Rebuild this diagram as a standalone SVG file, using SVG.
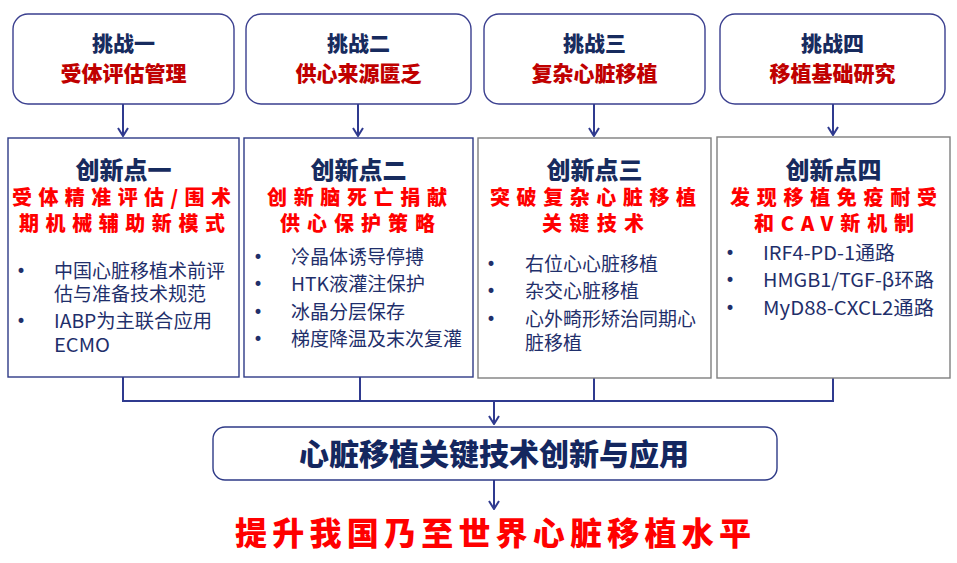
<svg xmlns="http://www.w3.org/2000/svg" width="957" height="563" viewBox="0 0 957 563">
<defs>
<style>
.cbox{fill:#fff;stroke:#3a3f8f;stroke-width:1.4}
.ibox{fill:#fff;stroke:#2e3a87;stroke-width:1.4}
.gbox{fill:#fff;stroke:#7f7f7f;stroke-width:1.4}
.conn{fill:none;stroke:#2f3a8f;stroke-width:2}
.ct{font-family:"Noto Sans CJK SC","Noto Sans",sans-serif;font-weight:900;font-size:21px;fill:#172b5e;text-anchor:middle}
.cs{font-family:"Noto Sans CJK SC","Noto Sans",sans-serif;font-weight:900;font-size:21px;fill:#c00000;text-anchor:middle}
.it{font-family:"Noto Sans CJK SC","Noto Sans",sans-serif;font-weight:900;font-size:24px;fill:#172b5e;text-anchor:middle}
.ir{font-family:"Noto Sans CJK SC","Noto Sans",sans-serif;font-weight:900;font-size:20px;fill:#ff0000}
.b{font-family:"Noto Sans CJK SC","Noto Sans",sans-serif;font-size:19px;fill:#1f2f6b}
.dot{font-family:"DejaVu Sans",sans-serif;font-size:17px;fill:#1f2f6b}
.mid{font-family:"Noto Sans CJK SC","Noto Sans",sans-serif;font-weight:900;font-size:30px;fill:#14275f;text-anchor:middle}
.fin{font-family:"Noto Sans CJK SC","Noto Sans",sans-serif;font-weight:900;font-size:32px;fill:#ff0000}
</style>
<marker id="ah" viewBox="0 0 10 12" markerWidth="10" markerHeight="12" refX="9" refY="6" orient="auto" markerUnits="userSpaceOnUse">
<path d="M1,1 L9,6 L1,11" fill="none" stroke="#2f3a8f" stroke-width="2"/>
</marker>
</defs>

<g id="connectors">
<line class="conn" x1="123" y1="104" x2="123" y2="136" marker-end="url(#ah)"/>
<line class="conn" x1="358" y1="104" x2="358" y2="136" marker-end="url(#ah)"/>
<line class="conn" x1="594" y1="104" x2="594" y2="136" marker-end="url(#ah)"/>
<line class="conn" x1="833" y1="104" x2="833" y2="135" marker-end="url(#ah)"/>
<polyline class="conn" points="123,377 123,401 833,401 833,378"/>
<line class="conn" x1="360" y1="377" x2="360" y2="401"/>
<line class="conn" x1="594" y1="378" x2="594" y2="401"/>
<line class="conn" x1="494" y1="401" x2="494" y2="424" marker-end="url(#ah)"/>
<line class="conn" x1="494" y1="480" x2="494" y2="509" marker-end="url(#ah)"/>
</g>

<g id="challenge1">
<rect class="cbox" x="13" y="14" width="221" height="90" rx="15"/>
<text class="ct" x="123.5" y="51">挑战一</text>
<text class="cs" x="123.5" y="81">受体评估管理</text>
</g>
<g id="challenge2">
<rect class="cbox" x="246" y="14" width="225" height="90" rx="15"/>
<text class="ct" x="358.5" y="51">挑战二</text>
<text class="cs" x="358.5" y="81">供心来源匮乏</text>
</g>
<g id="challenge3">
<rect class="cbox" x="484" y="14" width="221" height="90" rx="15"/>
<text class="ct" x="594.5" y="51">挑战三</text>
<text class="cs" x="594.5" y="81">复杂心脏移植</text>
</g>
<g id="challenge4">
<rect class="cbox" x="720" y="14" width="225" height="90" rx="15"/>
<text class="ct" x="832.5" y="51">挑战四</text>
<text class="cs" x="832.5" y="81">移植基础研究</text>
</g>

<g id="innovation1">
<rect class="ibox" x="8" y="138" width="231" height="239"/>
<text class="it" x="123.5" y="179">创新点一</text>
<text class="ir" x="12" y="205" textLength="219" lengthAdjust="spacing">受体精准评估/围术</text>
<text class="ir" x="19" y="231" textLength="206" lengthAdjust="spacing">期机械辅助新模式</text>
<text class="dot" x="16" y="277">•</text>
<text class="b" x="54" y="278">中国心脏移植术前评</text>
<text class="b" x="54" y="301">估与准备技术规范</text>
<text class="dot" x="16" y="327">•</text>
<text class="b" x="54" y="328" textLength="158" lengthAdjust="spacingAndGlyphs">IABP为主联合应用</text>
<text class="b" x="54" y="352" textLength="56" lengthAdjust="spacingAndGlyphs">ECMO</text>
</g>

<g id="innovation2">
<rect class="ibox" x="244" y="138" width="229" height="239"/>
<text class="it" x="358.5" y="179">创新点二</text>
<text class="ir" x="267" y="205" textLength="180" lengthAdjust="spacing">创新脑死亡捐献</text>
<text class="ir" x="280" y="231" textLength="155" lengthAdjust="spacing">供心保护策略</text>
<text class="dot" x="253" y="263">•</text>
<text class="b" x="291" y="264">冷晶体诱导停搏</text>
<text class="dot" x="253" y="290">•</text>
<text class="b" x="291" y="291" textLength="134" lengthAdjust="spacingAndGlyphs">HTK液灌注保护</text>
<text class="dot" x="253" y="318">•</text>
<text class="b" x="291" y="319">冰晶分层保存</text>
<text class="dot" x="253" y="345">•</text>
<text class="b" x="291" y="346">梯度降温及末次复灌</text>
</g>

<g id="innovation3">
<rect class="gbox" x="478" y="138" width="233" height="240"/>
<text class="it" x="594.5" y="179">创新点三</text>
<text class="ir" x="490" y="205" textLength="206" lengthAdjust="spacing">突破复杂心脏移植</text>
<text class="ir" x="542" y="231" textLength="102" lengthAdjust="spacing">关键技术</text>
<text class="dot" x="486" y="270">•</text>
<text class="b" x="525" y="271">右位心心脏移植</text>
<text class="dot" x="486" y="297">•</text>
<text class="b" x="525" y="298">杂交心脏移植</text>
<text class="dot" x="486" y="325">•</text>
<text class="b" x="525" y="326">心外畸形矫治同期心</text>
<text class="b" x="525" y="350">脏移植</text>
</g>

<g id="innovation4">
<rect class="gbox" x="717" y="137" width="233" height="241"/>
<text class="it" x="833.5" y="179">创新点四</text>
<text class="ir" x="730" y="205" textLength="207" lengthAdjust="spacing">发现移植免疫耐受</text>
<text class="ir" x="754" y="231" textLength="160" lengthAdjust="spacing">和CAV新机制</text>
<text class="dot" x="725" y="259">•</text>
<text class="b" x="763" y="260" textLength="132" lengthAdjust="spacingAndGlyphs">IRF4-PD-1通路</text>
<text class="dot" x="725" y="286">•</text>
<text class="b" x="763" y="287" textLength="171" lengthAdjust="spacingAndGlyphs">HMGB1/TGF-β环路</text>
<text class="dot" x="725" y="314">•</text>
<text class="b" x="763" y="315" textLength="171" lengthAdjust="spacingAndGlyphs">MyD88-CXCL2通路</text>
</g>

<g id="core">
<rect class="ibox" x="213" y="427" width="564" height="53" rx="12"/>
<text class="mid" x="494" y="465">心脏移植关键技术创新与应用</text>
</g>

<g id="goal">
<text class="fin" x="235" y="545" textLength="516" lengthAdjust="spacing">提升我国乃至世界心脏移植水平</text>
</g>
</svg>
